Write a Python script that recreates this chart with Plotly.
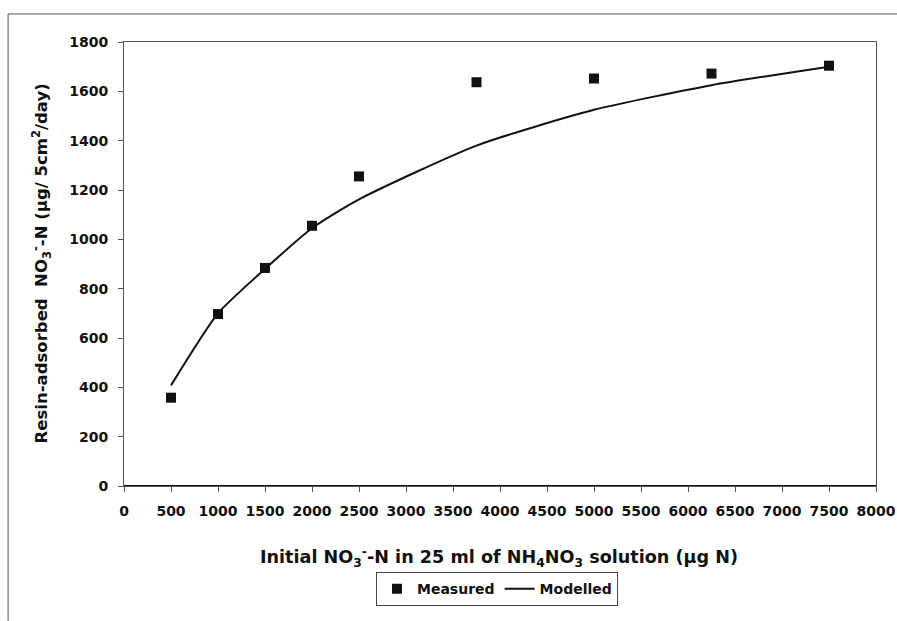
import plotly.graph_objects as go

x_measured = [500, 1000, 1500, 2000, 2500, 3750, 5000, 6250, 7500]
y_measured = [358, 697, 884, 1055, 1255, 1637, 1652, 1672, 1704]
x_model = [500, 1000, 1500, 2000, 2500, 3750, 5000, 6250, 7500]
y_model = [408, 700, 880, 1045, 1162, 1380, 1525, 1625, 1700]

font_family = "DejaVu Sans, Liberation Sans, Arial, sans-serif"

fig = go.Figure()
fig.add_trace(go.Scatter(x=x_measured, y=y_measured, mode="markers", name="Measured",
                         marker=dict(symbol="square", size=10, color="#111111")))
fig.add_trace(go.Scatter(x=x_model, y=y_model, mode="lines", name="Modelled",
                         line=dict(color="#111111", width=2, shape="spline", smoothing=0.6)))

fig.update_layout(
    width=897, height=621,
    margin=dict(l=124, r=21, t=42, b=135, autoexpand=False),
    paper_bgcolor="white", plot_bgcolor="white",
    font=dict(family=font_family, size=14, color="#111111", weight="bold"),
    showlegend=True,
    legend=dict(orientation="h", x=0.496, xanchor="center", y=-0.194, yanchor="top",
                bordercolor="#444444", borderwidth=1,
                font=dict(family=font_family, size=14, weight="bold"),
                tracegroupgap=0),
    xaxis=dict(range=[0, 8000], tickvals=list(range(0, 8001, 500)), automargin=False,
               showgrid=False, zeroline=False, showline=True, linecolor="#555555", linewidth=1,
               mirror=True, ticks="outside", ticklen=5, tickcolor="#555555",
               tickfont=dict(family=font_family, size=14, weight="bold"), ticklabelstandoff=7),
    yaxis=dict(range=[0, 1800], tickvals=list(range(0, 1801, 200)), automargin=False,
               showgrid=False, zeroline=False, showline=True, linecolor="#555555", linewidth=1,
               mirror=True, ticks="outside", ticklen=5, tickcolor="#555555",
               tickfont=dict(family=font_family, size=14, weight="bold"), ticklabelstandoff=7),
)

fig.add_annotation(text="Initial NO<sub>3</sub><sup>-</sup>-N in 25 ml of NH<sub>4</sub>NO<sub>3</sub> solution (µg N)",
                   xref="paper", yref="paper", x=0.499, y=-0.160, xanchor="center", yanchor="middle",
                   showarrow=False, font=dict(family=font_family, size=17.6, weight="bold"))
fig.add_annotation(text="Resin-adsorbed  NO<sub>3</sub><sup>-</sup>-N (µg/ 5cm<sup>2</sup>/day)",
                   xref="paper", yref="paper", x=-0.110, y=0.502, xanchor="center", yanchor="middle",
                   textangle=-90, showarrow=False, font=dict(family=font_family, size=16.5, weight="bold"))

# outer chart frame
fig.add_shape(type="line", xref="paper", yref="paper", x0=-0.1541, x1=1.03, y0=1.0631, y1=1.0631,
              line=dict(color="#555555", width=1))
fig.add_shape(type="line", xref="paper", yref="paper", x0=-0.1541, x1=-0.1541, y0=1.0631, y1=-0.304,
              line=dict(color="#555555", width=1))

# bold zero line
fig.add_shape(type="line", xref="x", yref="y", x0=0, x1=8000, y0=0, y1=0,
              line=dict(color="#111111", width=2))

fig.write_html("out.html")
